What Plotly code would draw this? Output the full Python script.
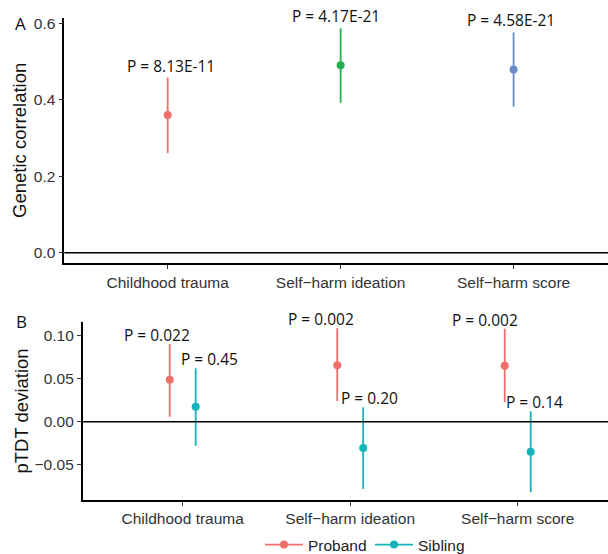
import plotly.graph_objects as go

# ---------------- data ----------------
categories = ["Childhood trauma", "Self\u2212harm ideation", "Self\u2212harm score"]

rg_est = [0.360, 0.490, 0.479]
rg_low = [0.261, 0.392, 0.382]
rg_high = [0.458, 0.587, 0.576]
rg_pvals = ["P = 8.13E-11", "P = 4.17E-21", "P = 4.58E-21"]

proband_est = [0.0487, 0.0653, 0.0649]
proband_low = [0.0058, 0.0240, 0.0224]
proband_high = [0.0900, 0.1082, 0.1075]
proband_pvals = ["P = 0.022", "P = 0.002", "P = 0.002"]

sibling_est = [0.0174, -0.0305, -0.0348]
sibling_low = [-0.0278, -0.0781, -0.0816]
sibling_high = [0.0618, 0.0166, 0.0120]
sibling_pvals = ["P = 0.45", "P = 0.20", "P = 0.14"]

# ---------------- style ----------------
W, H = 608, 554
A_COLORS = ["#EF6F6A", "#22B14C", "#6A8BC9"]
PROBAND_COLOR = "#EF6F6A"
SIBLING_COLOR = "#14B4BA"
TICK_FONT = dict(family="Liberation Sans, Arial, sans-serif", size=15.5, color="#333333")
LABEL_FONT = dict(family="Open Sans, sans-serif", size=15.5, color="#111111")
TITLE_FONT = dict(family="Liberation Sans, Arial, sans-serif", size=18.5, color="#111111")
A_LABEL_SHIFT = [3, -5, -3]
PROBAND_LABEL_SHIFT = [-26, -29, -33]
SIBLING_LABEL_SHIFT = [27, 19, 17]


def px_x(p):
    return p / W


def px_y(p):
    return 1 - p / H


fig = go.Figure()

# Panel A
for i, cat in enumerate(categories):
    fig.add_trace(go.Scatter(
        x=[cat], y=[rg_est[i]], mode="markers",
        marker=dict(color=A_COLORS[i], size=8),
        error_y=dict(type="data", symmetric=False,
                     array=[rg_high[i] - rg_est[i]],
                     arrayminus=[rg_est[i] - rg_low[i]],
                     color=A_COLORS[i], thickness=1.8, width=0),
        offsetgroup="A", alignmentgroup="A",
        xaxis="x", yaxis="y", showlegend=False, hoverinfo="skip"))

# Panel B
for name, est, lo, hi, col in [
    ("Proband", proband_est, proband_low, proband_high, PROBAND_COLOR),
    ("Sibling", sibling_est, sibling_low, sibling_high, SIBLING_COLOR),
]:
    fig.add_trace(go.Scatter(
        x=categories, y=est, mode="markers", name=name,
        marker=dict(color=col, size=8),
        error_y=dict(type="data", symmetric=False,
                     array=[h - e for h, e in zip(hi, est)],
                     arrayminus=[e - l for e, l in zip(est, lo)],
                     color=col, thickness=1.8, width=0),
        offsetgroup=name, alignmentgroup="B",
        xaxis="x2", yaxis="y2", showlegend=False, hoverinfo="skip"))
    # legend key (line + point)
    fig.add_trace(go.Scatter(
        x=[None], y=[None], mode="lines+markers", name=name,
        line=dict(color=col, width=1.8), marker=dict(color=col, size=8),
        offsetgroup=name, alignmentgroup="B",
        xaxis="x2", yaxis="y2", showlegend=True))

annotations = []
for i, cat in enumerate(categories):
    annotations.append(dict(x=cat, y=rg_high[i], xref="x", yref="y", text=rg_pvals[i],
                            showarrow=False, yanchor="bottom", xanchor="center",
                            xshift=A_LABEL_SHIFT[i], yshift=-1, font=LABEL_FONT))
    annotations.append(dict(x=cat, y=proband_high[i], xref="x2", yref="y2", text=proband_pvals[i],
                            showarrow=False, yanchor="bottom", xanchor="center",
                            xshift=PROBAND_LABEL_SHIFT[i], yshift=-4, font=LABEL_FONT))
    annotations.append(dict(x=cat, y=sibling_high[i], xref="x2", yref="y2", text=sibling_pvals[i],
                            showarrow=False, yanchor="bottom", xanchor="center",
                            xshift=SIBLING_LABEL_SHIFT[i], yshift=-4, font=LABEL_FONT))

# axis titles and panel letters
annotations += [
    dict(x=px_x(19), y=px_y(141), xref="paper", yref="paper", text="Genetic correlation",
         textangle=-90, showarrow=False, font=TITLE_FONT, xanchor="center", yanchor="middle"),
    dict(x=px_x(20.5), y=px_y(411), xref="paper", yref="paper", text="pTDT deviation",
         textangle=-90, showarrow=False, font=TITLE_FONT, xanchor="center", yanchor="middle"),
    dict(x=px_x(20.5), y=px_y(23), xref="paper", yref="paper", text="A",
         showarrow=False, font=dict(family="Open Sans, sans-serif", size=17, color="#111111"),
         xanchor="center", yanchor="middle"),
    dict(x=px_x(21.5), y=px_y(321), xref="paper", yref="paper", text="B",
         showarrow=False, font=dict(family="Open Sans, sans-serif", size=17, color="#111111"),
         xanchor="center", yanchor="middle"),
]

axis_common = dict(showline=True, linecolor="black", linewidth=1.6, ticks="outside",
                   ticklen=4, tickwidth=1.2, tickcolor="#333333", showgrid=False,
                   zeroline=False, tickfont=TICK_FONT, automargin=False)

fig.update_layout(
    template="none",
    width=W, height=H, margin=dict(l=0, r=0, t=0, b=0, pad=0, autoexpand=False),
    paper_bgcolor="white", plot_bgcolor="white",
    scattermode="group", scattergap=0.69,
    xaxis=dict(domain=[px_x(64.3), 1], anchor="y", type="category",
               categoryorder="array", categoryarray=categories,
               range=[-0.598, 2.546], **axis_common),
    yaxis=dict(domain=[px_y(263.3), px_y(18.3)], anchor="x", range=[-0.0277, 0.613],
               tickvals=[0, 0.2, 0.4, 0.6], tickformat=".1f", **axis_common),
    xaxis2=dict(domain=[px_x(82.7), 1], anchor="y2", type="category",
                categoryorder="array", categoryarray=categories,
                range=[-0.597, 2.539], **axis_common),
    yaxis2=dict(domain=[px_y(500), px_y(321.7)], anchor="x2", range=[-0.0907, 0.1158],
                tickvals=[-0.05, 0, 0.05, 0.10], tickformat=".2f", **axis_common),
    shapes=[
        dict(type="line", xref="x domain", yref="y", x0=0, x1=1, y0=0, y1=0,
             line=dict(color="black", width=1.6)),
        dict(type="line", xref="x2 domain", yref="y2", x0=0, x1=1, y0=0, y1=0,
             line=dict(color="black", width=1.6)),
    ],
    annotations=annotations,
    legend=dict(orientation="h", x=px_x(260), y=px_y(545), xanchor="left", yanchor="middle",
                font=dict(family="Liberation Sans, Arial, sans-serif", size=15.5, color="#222222"),
                bgcolor="rgba(0,0,0,0)", itemwidth=38,
                entrywidth=57, entrywidthmode="pixels"),
)

# remove the browser's default 8px page margin so the figure fills the window exactly
fig.write_html("out.html", config={"displayModeBar": False},
               post_script="document.body.style.margin='0';")
